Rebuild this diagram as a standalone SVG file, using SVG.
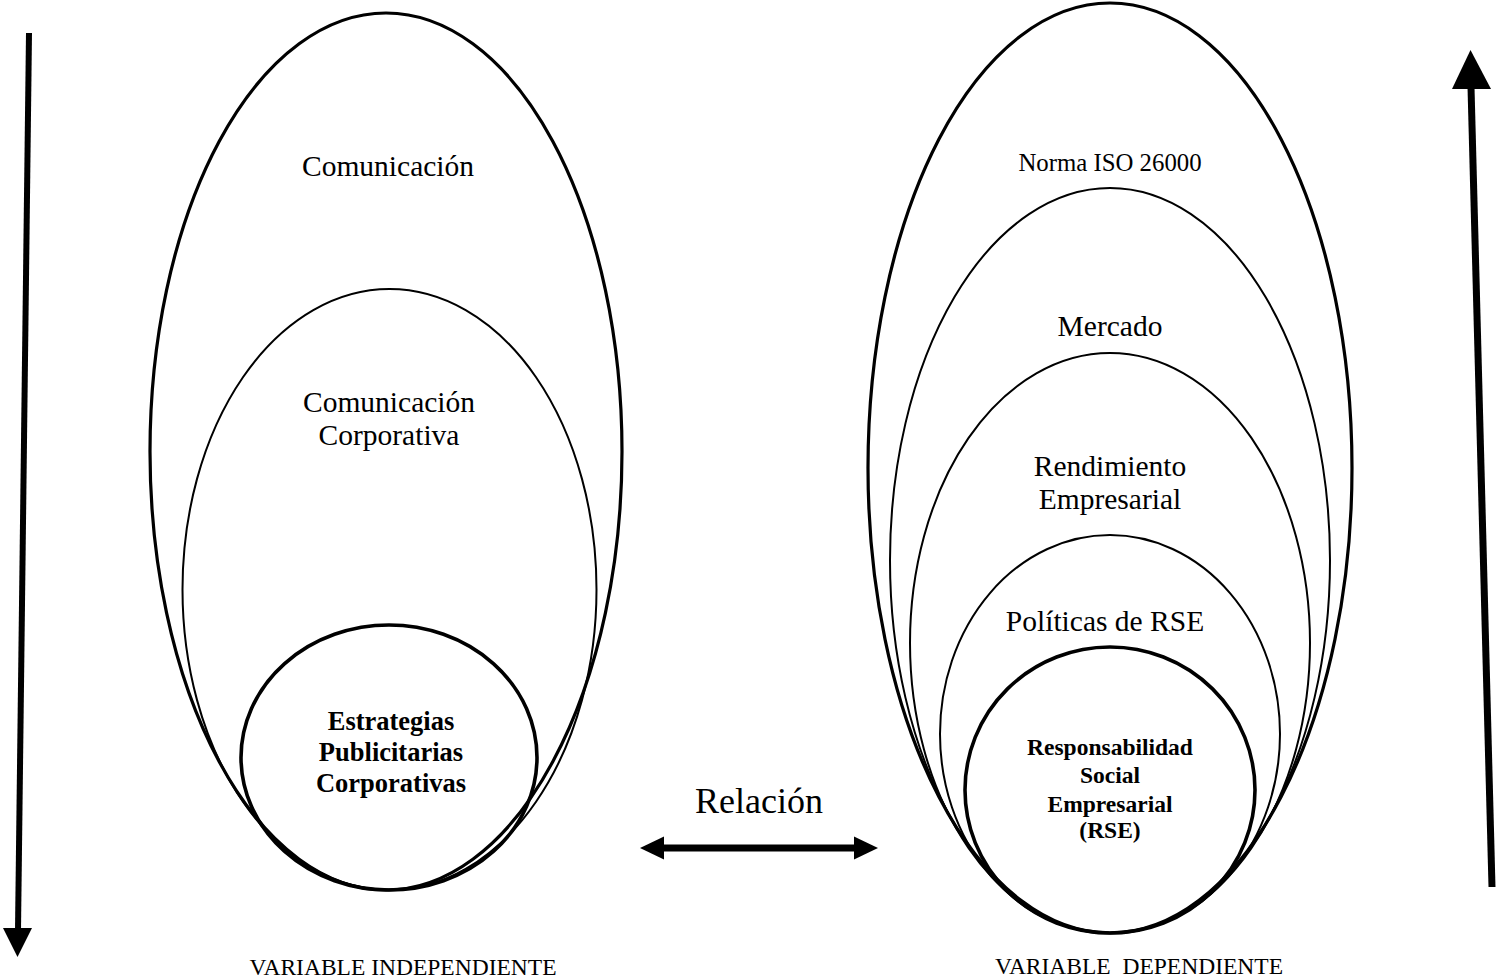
<svg xmlns="http://www.w3.org/2000/svg" width="1496" height="980" viewBox="0 0 1496 980">
<style>
.bg{fill:#fff}
.e{fill:none;stroke:#000}
.thick{stroke-width:3.2}
.thin{stroke-width:2}
.circ{stroke-width:3.6}
.t{font-family:"Liberation Serif","Times New Roman",serif;fill:#000;text-anchor:middle}
.lab{font-size:29.5px}
.bold{font-weight:bold}
.shaft{stroke:#000;fill:none}
.head{fill:#000}
</style>
<rect class="bg" x="0" y="0" width="1496" height="980"/>

<g id="left-comunicacion">
  <ellipse class="e thick" cx="386" cy="451.5" rx="236" ry="438.5"/>
  <text class="t lab" x="388" y="176">Comunicación</text>
</g>
<g id="left-comunicacion-corporativa">
  <ellipse class="e thin" cx="389.5" cy="589.5" rx="207" ry="300.5"/>
  <text class="t lab" x="389" y="412">Comunicación</text>
  <text class="t lab" x="389" y="445">Corporativa</text>
</g>
<g id="left-estrategias">
  <ellipse class="e circ" cx="389" cy="757.5" rx="148" ry="132.5"/>
  <text class="t bold" style="font-size:26.5px" x="391" y="730">Estrategias</text>
  <text class="t bold" style="font-size:26.5px" x="391" y="761">Publicitarias</text>
  <text class="t bold" style="font-size:26.5px" x="391" y="792">Corporativas</text>
</g>
<g id="left-label">
  <text class="t" style="font-size:23.5px" x="403" y="975">VARIABLE INDEPENDIENTE</text>
</g>

<g id="right-iso">
  <ellipse class="e thick" cx="1110" cy="468" rx="242" ry="465"/>
  <text class="t" style="font-size:24.8px" x="1110" y="171">Norma ISO 26000</text>
</g>
<g id="right-mercado">
  <ellipse class="e thin" cx="1110" cy="560.5" rx="220" ry="372.5"/>
  <text class="t lab" x="1110" y="336">Mercado</text>
</g>
<g id="right-rendimiento">
  <ellipse class="e thin" cx="1110" cy="643" rx="200" ry="290"/>
  <text class="t lab" x="1110" y="476">Rendimiento</text>
  <text class="t lab" x="1110" y="509">Empresarial</text>
</g>
<g id="right-politicas">
  <ellipse class="e thin" cx="1110" cy="734" rx="170" ry="199"/>
  <text class="t lab" x="1105" y="631">Políticas de RSE</text>
</g>
<g id="right-rse">
  <ellipse class="e circ" cx="1110" cy="790" rx="145" ry="143"/>
  <text class="t bold" style="font-size:23.5px" x="1110" y="755">Responsabilidad</text>
  <text class="t bold" style="font-size:23.5px" x="1110" y="783">Social</text>
  <text class="t bold" style="font-size:23.5px" x="1110" y="812">Empresarial</text>
  <text class="t bold" style="font-size:23.5px" x="1110" y="838">(RSE)</text>
</g>
<g id="right-label">
  <text class="t" style="font-size:23.5px" x="1139" y="974" xml:space="preserve">VARIABLE  DEPENDIENTE</text>
</g>

<g id="relacion-label">
  <text class="t" style="font-size:36px" x="759" y="813">Relación</text>
</g>

<g id="connectors">
  <line class="shaft" x1="29" y1="33" x2="18" y2="930" stroke-width="6"/>
  <polygon class="head" points="3,928 32,928 17.5,957"/>
  <line class="shaft" x1="1492" y1="887" x2="1471" y2="87" stroke-width="7"/>
  <polygon class="head" points="1452,89 1491,89 1470.5,50"/>
  <line class="shaft" x1="660" y1="848" x2="858" y2="848" stroke-width="7"/>
  <polygon class="head" points="640,848 664,836.5 664,859.5"/>
  <polygon class="head" points="878,848 854,836.5 854,859.5"/>
</g>
</svg>
